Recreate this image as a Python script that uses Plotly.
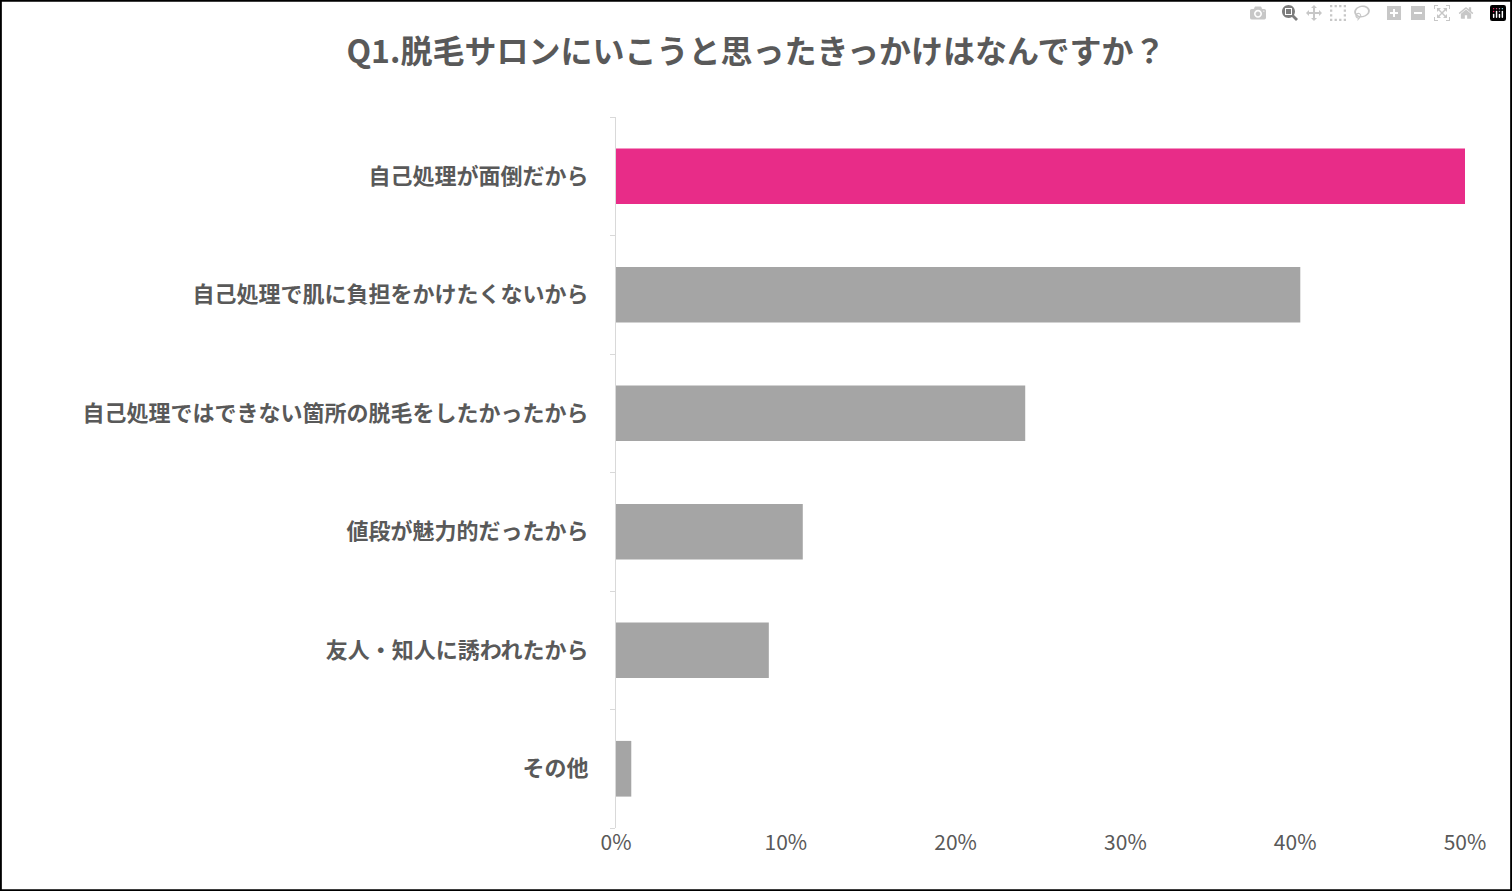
import plotly.graph_objects as go

categories = ["自己処理が面倒だから", "自己処理で肌に負担をかけたくないから",
              "自己処理ではできない箇所の脱毛をしたかったから", "値段が魅力的だったから",
              "友人・知人に誘われたから", "その他"]
values = [50.0, 40.3, 24.1, 11.0, 9.0, 0.9]
colors = ["#e82c88", "#a5a5a5", "#a5a5a5", "#a5a5a5", "#a5a5a5", "#a5a5a5"]
x_ticks = [0, 10, 20, 30, 40, 50]
x_labels = ["0%", "10%", "20%", "30%", "40%", "50%"]

W, H = 1512, 891
L, R, T, B = 616, 47, 117, 63
font = "Noto Sans CJK JP"

fig = go.Figure(go.Bar(
    y=categories, x=values, orientation="h",
    marker=dict(color=colors, line=dict(width=0)),
))

pw = W - L - R
ph = H - T - B
fig.add_shape(type="rect", xref="paper", yref="paper",
              x0=-L / pw + 0.001, x1=(W - L) / pw - 0.001,
              y0=-B / ph + 0.001, y1=(H - B) / ph - 0.001,
              line=dict(color="black", width=2))

fig.update_layout(
    width=W, height=H,
    margin=dict(l=L, r=R, t=T, b=B),
    paper_bgcolor="white", plot_bgcolor="white",
    bargap=0.53,
    showlegend=False,
    title=dict(text="<b>Q1.脱毛サロンにいこうと思ったきっかけはなんですか？</b>",
               x=0.5, xanchor="center", y=1 - 52 / H, yanchor="middle",
               font=dict(family=font, size=32, color="#595959")),
    xaxis=dict(range=[0, 50], tickvals=x_ticks, ticktext=x_labels,
               showgrid=False, zeroline=False, showline=False,
               tickfont=dict(family=font, size=21, color="#595959")),
    yaxis=dict(autorange="reversed", showline=True, linecolor="#d9d9d9",
               linewidth=1, ticks="outside", ticklen=5, tickcolor="#d9d9d9",
               tickson="boundaries", ticklabelstandoff=22,
               tickfont=dict(family=font, size=22, color="#595959")),
)
fig.update_yaxes(ticktext=["<b>%s</b>" % c for c in categories], tickvals=categories)

fig.write_html("out.html", post_script="document.body.style.margin='0';")
